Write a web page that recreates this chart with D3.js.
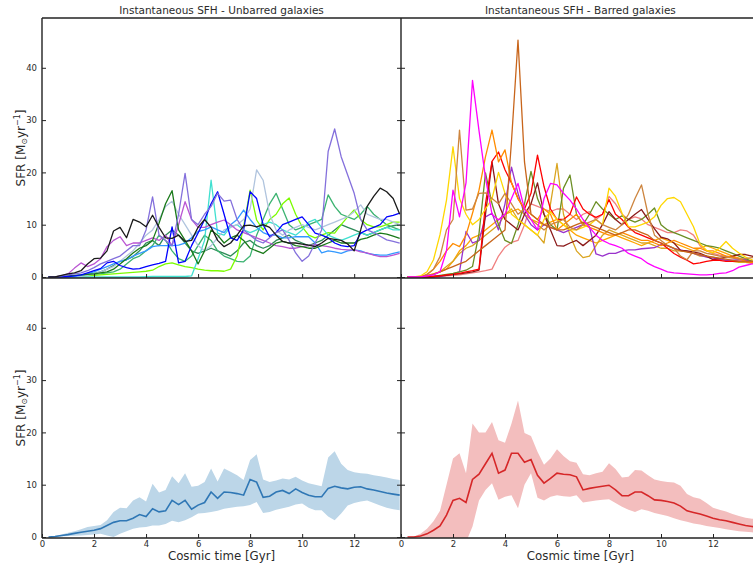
<!DOCTYPE html>
<html><head><meta charset="utf-8">
<script src="https://cdn.jsdelivr.net/npm/d3@7/dist/d3.min.js"></script>
<style>body{margin:0;background:#fff}svg{display:block}text{font-family:"DejaVu Sans",sans-serif;fill:#2b2b2b}</style>
</head><body><svg id="c" width="753" height="565"></svg>
<script>
// ---------- DATA ----------
const times = [0.25,0.5,0.75,1.0, 1.25,1.5,1.75,2.0, 2.25,2.5,2.75,3.0, 3.25,3.5,3.75,4.0,
  4.25,4.5,4.75,5.0, 5.25,5.5,5.75,6.0, 6.25,6.5,6.75,7.0, 7.25,7.5,7.75,8.0,
  8.25,8.5,8.75,9.0, 9.25,9.5,9.75,10.0, 10.25,10.5,10.75,11.0, 11.25,11.5,11.75,12.0,
  12.25,12.5,12.75,13.0, 13.25,13.5,13.75];
const xTicks = [0,2,4,6,8,10,12];
const yTicks = [0,10,20,30,40];
const titles = ["Instantaneous SFH - Unbarred galaxies","Instantaneous SFH - Barred galaxies"];
const xLabel = "Cosmic time [Gyr]";

// Unbarred galaxies (instantaneous SFR)
const ubSeaGreen2 = [0,0,0,0.1, 0.2,0.3,0.5,0.7, 1,1.5,2.2,3, 3.3,3.9,5,6.5, 7,6,8,9, 8,6.5,5,4.5, 5,5.5,5,4.5, 4,5,6.5,7, 6,5.5,6,7, 7.5,8,7,6.5, 6,6.5,7,8, 9,10,9.5,9, 8.5,8,8.5,9, 9.5,9.8,10];
const ubSeaGreen = [0,0,0,0.1, 0.2,0.3,0.4,0.5, 0.6,0.8,1,1.5, 2.5,3.5,4,5, 6,8,7,5, 3.5,3,4,6, 8,7,5,4, 3.5,3,2.9,4, 8,11,14,16, 13,10,9,9.5, 10,10.5,11,15.7, 13.5,12,11.5,11, 12,13.5,12,11, 10,9.5,9];
const ubLawnGreen = [0,0,0,0, 0,0.1,0.2,0.3, 0.4,0.5,0.6,0.7, 0.8,0.9,1,1.1, 1.3,2,2.5,2.7, 2.3,2,1.8,1.5, 1.3,1.2,1.2,1.1, 1.5,4,9.6,16.6, 10.9,9,11,12, 14,15.1,12,9.6, 8,7.5,8,8.5, 8.4,10,11.5,12.8, 11,10,9.6,9.6, 10,10.5,10.5];
const ubTurquoise = [0,0,0,0, 0,0,0,0, 0,0,0,0, 0,0,0,0.05, 0.1,0.1,0.1,0.1, 0.1,0.1,0.2,3.5, 7,18.5,8.4,8, 9.6,10,9,8.5, 9,10,10.5,10, 9,8.5,8,9, 10.5,11,9.5,8, 7.5,7,7.5,8, 8.5,8,8.5,9, 9.5,9,9];
const ubSteel = [0,0,0,0, 0,0.1,0.3,0.6, 1,1.5,2,3, 4,5,6.5,8, 9,11,13.5,14.5, 12,10,8,6, 5,6,7.5,9, 9.5,10,11,13, 20.5,18.5,12,9, 8,9,9.5,10, 9.5,9,9.5,10, 10.5,11,11.5,12.5, 13.8,12,11.5,11, 11,10.5,10];
const ubDodger = [0,0,0,0, 0.1,0.3,0.6,1, 1.5,2,2.5,3, 3.3,4,4.5,5, 5.8,6,6,6, 6.1,6.5,7.5,8.7, 9,9.6,9,8.5, 10,11,12.8,11, 9.5,8.5,8,8, 7.5,7.5,7.7,7.7, 7.7,6.5,4.6,5, 4.8,4.5,5,5.2, 5,4.5,4.3,4.2, 4.2,4.5,4.8];
const ubOrchid = [0,0,0.2,0.6, 1.7,2.7,2,2.5, 3.5,5.8,7,7.7, 6,6.5,6.5,7, 7.5,7,8,6, 10,14.4,11,9.5, 9.5,10,10.5,10.9, 10,9,8.5,8, 7.5,7,6.5,6, 5.8,5.5,5.5,5.8, 6,6.2,6,5.8, 5.5,5.3,5.2,5.2, 4.8,4.6,4.2,3.9, 3.9,4.2,4.5];
const ubDarkGreen = [0,0,0.1,0.2, 0.3,0.4,0.5,0.6, 0.8,1,1.5,2.5, 3.5,4.6,5.5,6, 7,10.3,14,16.5, 9,7,5,2.5, 5,9,8,6.5, 7.5,8,7,5.5, 5,4.5,5.5,6.5, 6.8,6.5,6,5.8, 5.5,5.5,6,6.5, 7,6.5,6.5,6.5, 7.2,7.5,8,8.4, 8.2,7.8,7.4];
const ubBlue = [0,0,0,0.1, 0.2,0.4,0.8,1.2, 1.6,2.7,3,2.2, 1.8,1.5,1.6,2, 2.3,2.6,3,9.6, 2.7,3,6,8.4, 11,14,16.3,12, 7.5,7,9,16.3, 15,10,7.7,8.5, 10,10.5,11,11.5, 10,8.4,8,7.5, 6.5,6,5.8,6, 8.4,9,9.5,10, 11.5,11.8,12.2];
const ubPurple = [0,0,0.2,0.4, 0.6,0.8,1.2,1.8, 2.5,3,3.5,4, 5,6,6,9, 15.3,8,7,6, 12,19.8,11,10, 12,13.5,16,14.5, 14.7,11,9,8, 7,6.5,7.5,8.5, 9,7,4.6,3, 4,6.5,9,24, 28.3,23,19.5,16, 11,9,8.5,7.8, 7.1,6.8,6.5];
const ubBlack = [0,0,0.3,0.6, 0.8,1.2,2.5,3.5, 3.6,5,8.8,9.5, 7.5,11,10.5,9.6, 11.8,9.5,7.5,7.4, 8,6.8,7,9.5, 11,9.5,7,5.8, 6.5,8,9.8,9.9, 9.6,10,9.5,8, 6.8,6.5,6.5,6.3, 6.1,5.8,6.5,7.4, 7.2,7,6.3,5, 9,13.5,15.4,17, 16.3,15,12];
const unbarredNames = ["ubSeaGreen2","ubSeaGreen","ubLawnGreen","ubTurquoise","ubSteel","ubDodger","ubOrchid","ubDarkGreen","ubBlue","ubPurple","ubBlack"];
const unbarredValues = [ubSeaGreen2,ubSeaGreen,ubLawnGreen,ubTurquoise,ubSteel,ubDodger,ubOrchid,ubDarkGreen,ubBlue,ubPurple,ubBlack];
const unbarredColors = ["#2e8b57","#3cb371","#7cfc00","#40e0d0","#b0c4de","#3399ff","#ba55d3","#1a7a1a","#0000ff","#8470dc","#1a1a1a"];

// Barred galaxies (instantaneous SFR)
const bOrange = [0,0,0,0.3, 0.6,1,1.5,3, 5,6,7.5,8, 9,10,11,12, 12.5,13,12,11, 10.5,10,10.5,11, 10,9,8,7.5, 7,6.5,7,7.5, 8,7.5,7,6.5, 6,6.5,7,7.5, 7,6.5,6,5.5, 5,5.5,6,5.5, 5,4.5,4,3.6, 3.2,3,2.8];
const bLightCoral = [0,0,0,0, 0,0.1,0.2,0.3, 0.4,0.6,0.8,1, 1.2,1.5,4,5.7, 6.6,7,10,14, 13.5,13,12.5,13, 13,12,11,12, 12.5,11,12,15.4, 14,12,11,11.5, 11.1,10,9.5,9, 8.5,8.5,9,8.8, 8,6,5,4.5, 4.2,4,3.8,3.5, 3.2,3,2.8];
const bGoldenrod = [0,0,0,0.2, 0.6,1,2,3, 4.5,5.5,6,7, 8,9,10,12, 13,11,10,9, 8,6.5,14,21.7, 12,8,5,3.7, 4,6,8,9, 8.5,8,7.5,7, 6.5,6.5,6,5.5, 5.5,5,5,4.8, 4.5,4,4,3.8, 3.5,3.2,3,2.8, 2.8,2.6,2.4];
const bBlueViolet = [0,0,0,0, 0,0.1,0.3,0.6, 1,8.7,6.5,7, 11.5,12.2,9,14, 21,16,12,10, 9,10,9.5,9, 8.5,9,9.5,10, 9.6,4.4,4,4.5, 4.5,5,5.2,5.2, 5.4,5.5,5.6,6.2, 6,5.4,5.2,4.9, 4.5,4.2,3.8,3.6, 3.4,3.2,3.2,3.3, 3.3,3,2.8];
const bOliveDrab = [0,0,0,0, 0.1,0.3,0.5,0.7, 1,1.3,2,8.3, 19.9,14,10,7, 6.4,10,14,20.2, 15,12,10,9, 17,19.5,12,10, 12,14.4,13,12, 11,11.7,11,10.5, 11,12,13.2,10, 9,8.5,8,7.5, 7,6.5,6,5.8, 5.5,5,4.5,4, 3.5,3,2.8];
const bMaroon = [0,0,0,0, 0.1,0.2,0.3,0.5, 0.6,0.8,1,1.3, 12,22,14,11, 10,9,12,14, 18,12,9,6, 5.9,6.5,7,6, 7,8,10,12.5, 11,10,11,12, 12.9,11,9.2,7.6, 7.3,6.5,5.1,5, 4.8,4.5,4,3.3, 3.5,3.8,4,4.3, 4.3,4,3.6];
const bRed = [0,0,0,0, 0.1,0.2,0.4,0.5, 0.7,1,1.2,1.5, 14,22.1,23.9,20.5, 18,15,13,16, 23.3,17.3,13,11, 11,12,15.3,13, 12,11.4,12,14.8, 12,11,9.5,8.5, 8,7.5,7,6.5, 5.5,4.5,3.8,3.2, 2.5,2.7,3,3.2, 3.2,3,3,3, 3,2.8,2.7];
const bDarkOrange = [0,0,0,0.5, 1.5,3,5,6.4, 5.8,8,12.2,16.6, 23,28.1,22,24.3, 18,15,13,12, 11,13,12,9, 10,11,12,10, 9.5,9,8.5,8, 8,8.5,8,7.5, 7,7,6.5,6, 6.5,7,6.5,6, 5.5,5.5,5,5, 4.5,4,3.8,3.5, 3,2.8,2.6];
const bGold = [0,0,0.2,1, 3.3,8.1,14.7,24.9, 15,12,10,11, 13,15,20,16, 12,11,10,9, 8,11,12.5,11, 10,9,9,9.5, 10,11,10,17, 15.4,12.2,9.6,9.6, 10,10.5,11.5,13.7, 15,15.2,14.4,12, 9.6,6.3,5.1,4.6, 5.5,6.8,5.5,4.6, 3.8,3.3,2.8];
const bChocolate = [0,0,0,0.5, 1.5,3.9,9,11, 28.1,12.8,13,16, 16.1,15,14,16, 14,12,13,11, 10,9,10,10.5, 11,9.5,9,10, 10.5,11,10,9.5, 9,10,12,15, 17.6,12,8,7, 6,5.5,4,3.3, 5,5,4.5,4.3, 4,3.8,3.6,3.4, 3.5,3.7,3.8];
const bSienna = [0,0,0,0.2, 0.5,1,1.5,2, 2.5,3,4,5, 6,7,8,9, 26,45.3,22,12, 11,10,9.5,9, 9,9.5,10,10.5, 10,9.5,9,8.5, 8,8.5,9,9, 8.5,8,7,6.5, 6,5.5,5,4.8, 4.5,4.3,4,3.8, 3.6,3.4,3.2,3, 3,3,3];
const bMagenta = [0,0,0,0.2, 0.4,1,5,16.6, 11.5,18,37.6,28, 19,12,10.9,12, 15,17.9,13,11, 9,15,17.9,17.6, 16,14.7,13,11, 9.5,8,7,6.4, 6,5.5,4.5,4, 3.5,2.6,2,1.5, 1,0.8,0.7,0.6, 0.5,0.4,0.4,0.5, 0.7,0.8,1.2,1.9, 2.2,2.5,2.5];
const barredNames = ["bOrange","bLightCoral","bGoldenrod","bBlueViolet","bOliveDrab","bMaroon","bRed","bDarkOrange","bGold","bChocolate","bSienna","bMagenta"];
const barredValues = [bOrange,bLightCoral,bGoldenrod,bBlueViolet,bOliveDrab,bMaroon,bRed,bDarkOrange,bGold,bChocolate,bSienna,bMagenta];
const barredColors = ["#ffa500","#f08080","#daa520","#9932cc","#6b8e23","#8b1a1a","#ff0000","#ff8c00","#ffd700","#cd853f","#c8651b","#ff00ff"];

// Mean SFH with spread
const ubMean = [0,0.1,0.3,0.45, 0.7,0.9,1.1,1.3, 1.6,2.2,2.8,3.1, 3.1,3.6,4.3,3.9, 5.4,4.8,5.0,7.0, 6.2,7.0,5.3,6.1, 6.6,8.6,7.4,8.6, 8.5,8.3,8.0,11, 10.5,7.6,7.8,8.6, 8.9,8.3,9.2,8.5, 8.0,7.7,7.7,9.3, 9.7,9.4,9.2,9.5, 9.6,9.2,9.0,8.7, 8.4,8.2,8.0];
const ubHigh = [0,0.2,0.5,0.8, 1.1,1.5,1.9,2.1, 2.3,3.2,4.8,5.6, 5.5,7.0,7.6,6.8, 10.2,8.5,9,11.6, 10.3,12.2,9.6,9.8, 10.5,13.1,10.6,13.1, 12.5,11.8,10.9,14.7, 15.8,11,10.5,10.8, 11.2,11,11.5,10.8, 10.3,10,9.7,15.2, 16.4,14,12.8,12.4, 12.2,12.1,11.8,11.6, 11.4,11.1,10.9];
const ubLow = [0,0,0.1,0.2, 0.25,0.3,0.4,0.5, 0.6,0.3,0,0.6, 1.1,1.6,1.8,1.9, 2.2,2.2,2.5,3.1, 2.8,3.2,3.8,4.5, 4.6,4.8,5.0,5.4, 5.6,5.8,5.9,6.1, 6.7,4.6,4.8,5.2, 5.5,5.8,6.2,6.4, 5.6,5.1,5.1,3.9, 3.2,4.5,6.0,6.5, 6.8,7.0,6.5,6.0, 5.6,5.3,5.1];
const bMean = [0,0,0.2,0.6, 1.3,2.1,4.2,7.0, 7.4,6.6,11.0,12.0, 14,16,12.2,12.8, 16,16,14.3,14.8, 11.8,10.3,11.2,12.2, 12,11.9,11.5,9.0, 9.3,9.5,9.7,9.9, 9.0,7.9,7.9,8.6, 8.6,7.9,7.1,7.0, 6.8,6.5,5.9,5.0, 4.7,4.4,4.0,3.6, 3.3,3.1,2.8,2.5, 2.2,2.0,1.9];
const bHigh = [0,0.1,0.6,1.6, 3.0,5.0,10,15, 16,12.2,21.7,20, 20,22,18.5,18, 21.7,26.1,19.9,19.3, 16.3,13.8,15,16.8, 15.5,14.5,14.2,12, 11.8,12.2,12.5,14.1, 13,11.4,11.5,12.8, 12.7,11.8,11,10.7, 10.5,10.4,9.8,8.2, 7.6,7.3,6.5,5.6, 5.2,4.9,4.4,4.0, 3.7,3.5,3.3];
const bLow = [0,0,0,-0.2, -0.5,-1,-1,-1, -1,-1,2,7, 9,10.3,7.1,7.7, 8,5.5,10,12.2, 7.5,7.0,7.7,8, 7.8,7.7,8,6.6, 6.8,7.0,7.1,7.2, 6.5,5.8,5.2,4.8, 5.3,5.0,4.6,4.3, 4.0,3.6,3.2,2.9, 2.6,2.4,2.1,1.9, 1.7,1.5,1.3,1.1, 1.0,0.9,0.8];
const meanColors = ["#2f77b5","#d62728"];
const bandColors = ["#bcd6e8","#f3bebe"];

// ---------- LAYOUT ----------
const W = 753, H = 565;
const L = 42, M = 401, R = 759.8, T = 18, MID = 278, B = 538;
const xMax = 13.8, yMin = -0.19, yMax = 49.52;
const svg = d3.select("#c");
const xs = [d3.scaleLinear().domain([0,xMax]).range([L,M]), d3.scaleLinear().domain([0,xMax]).range([M,R])];
const ys = [d3.scaleLinear().domain([yMin,yMax]).range([MID,T]), d3.scaleLinear().domain([yMin,yMax]).range([B,MID])];

const defs = svg.append("defs");
[[0,0],[1,0],[0,1],[1,1]].forEach(([c,r]) => {
  const x0 = xs[c].range()[0], x1 = xs[c].range()[1];
  const y0 = ys[r].range()[1], y1 = ys[r].range()[0];
  defs.append("clipPath").attr("id",`clip${c}${r}`).append("rect")
    .attr("x",x0).attr("y",y0).attr("width",x1-x0).attr("height",y1-y0);
});

// Top panels: individual lines
function drawLines(col, values, colors){
  const g = svg.append("g").attr("clip-path",`url(#clip${col}0)`);
  const line = d3.line().x((d,i)=>xs[col](times[i])).y(d=>ys[0](d));
  values.forEach((v,k)=>{
    g.append("path").attr("d",line(v)).attr("fill","none")
      .attr("stroke",colors[k]).attr("stroke-width",1.3).attr("stroke-linejoin","round");
  });
}
drawLines(0, unbarredValues, unbarredColors);
drawLines(1, barredValues, barredColors);

// Bottom panels: mean with band
function drawBand(col, mean, lo, hi){
  const g = svg.append("g").attr("clip-path",`url(#clip${col}1)`);
  const area = d3.area().x((d,i)=>xs[col](times[i])).y0((d,i)=>ys[1](lo[i])).y1((d,i)=>ys[1](hi[i]));
  const line = d3.line().x((d,i)=>xs[col](times[i])).y(d=>ys[1](d));
  g.append("path").attr("d",area(mean)).attr("fill",bandColors[col]).attr("stroke","none");
  g.append("path").attr("d",line(mean)).attr("fill","none").attr("stroke",meanColors[col]).attr("stroke-width",1.6);
}
drawBand(0, ubMean, ubLow, ubHigh);
drawBand(1, bMean, bLow, bHigh);

// Axes ticks
function styleAxis(sel){
  sel.select(".domain").remove();
  sel.selectAll(".tick line").attr("stroke","#222").attr("stroke-width",1);
  sel.selectAll(".tick text").attr("fill","#333").style("font-size","8.5px").style("font-family","DejaVu Sans, sans-serif");
}
[0,1].forEach(r=>{
  svg.append("g").attr("transform",`translate(${L},0)`)
    .call(d3.axisLeft(ys[r]).tickValues(yTicks).tickSize(-4).tickPadding(5)).call(styleAxis);
  svg.append("g").attr("transform",`translate(${M},0)`)
    .call(d3.axisRight(ys[r]).tickValues(yTicks).tickSize(-4).tickFormat("")).call(styleAxis);
  svg.append("g").attr("transform",`translate(${M},0)`)
    .call(d3.axisLeft(ys[r]).tickValues(yTicks).tickSize(-4).tickFormat("")).call(styleAxis);
});
[0,1].forEach(c=>{
  svg.append("g").attr("transform",`translate(0,${MID})`)
    .call(d3.axisBottom(xs[c]).tickValues(xTicks).tickSize(-4).tickFormat("")).call(styleAxis);
  svg.append("g").attr("transform",`translate(0,${B})`)
    .call(d3.axisBottom(xs[c]).tickValues(xTicks).tickSize(-4).tickPadding(3)).call(styleAxis);
});

// Frame
const frame = svg.append("g").attr("stroke","#222").attr("stroke-width",1.4);
[[L,T,W,T],[L,MID,W,MID],[L,B,W,B],[L,T,L,B],[M,T,M,B]].forEach(([x1,y1,x2,y2])=>{
  frame.append("line").attr("x1",x1).attr("y1",y1).attr("x2",x2).attr("y2",y2);
});

// Titles & labels
[0,1].forEach(c=>{
  const cx = (xs[c].range()[0]+xs[c].range()[1])/2;
  svg.append("text").attr("x",cx).attr("y",14).attr("text-anchor","middle")
    .style("font-size","10.5px").text(titles[c]);
  svg.append("text").attr("x",cx).attr("y",560).attr("text-anchor","middle")
    .style("font-size","11.8px").text(xLabel);
});
[0,1].forEach(r=>{
  const cy = (ys[r].range()[0]+ys[r].range()[1])/2;
  const t = svg.append("text").attr("transform",`translate(24.5,${cy}) rotate(-90)`)
    .attr("text-anchor","middle").style("font-size","12px");
  t.append("tspan").text("SFR [M");
  t.append("tspan").attr("dy","2.5").style("font-size","8px").text("⊙");
  t.append("tspan").attr("dy","-2.5").text("yr");
  t.append("tspan").attr("dy","-4.5").style("font-size","8px").text("−1");
  t.append("tspan").attr("dy","4.5").text("]");
});
</script></body></html>
